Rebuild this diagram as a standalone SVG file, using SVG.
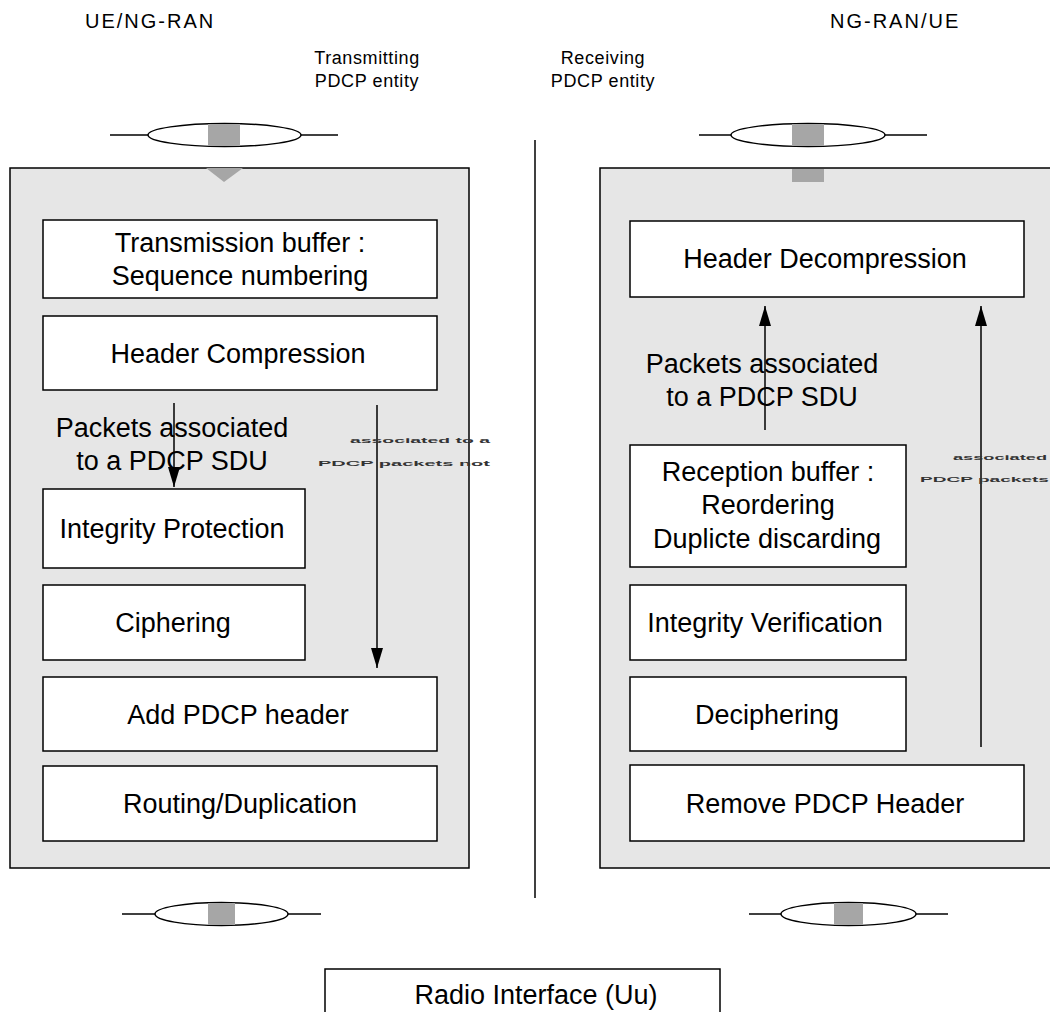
<svg xmlns="http://www.w3.org/2000/svg" width="1050" height="1012" viewBox="0 0 1050 1012">
<defs>
<style>
text{font-family:"Liberation Sans",Arial,sans-serif;fill:#000}
.n{font-size:27px;text-anchor:middle}
.box{fill:#fff;stroke:#000;stroke-width:1.5}
.panel{fill:#e6e6e6;stroke:#000;stroke-width:1.5}
.ln{stroke:#000;stroke-width:1.5;fill:none}
.sq{fill:#a6a6a6}
.hd{font-size:20px;letter-spacing:2px}
.sub{font-size:18px;text-anchor:middle;letter-spacing:0.6px}
.tiny{font-size:8px;fill:#333;font-weight:bold}
</style>
<marker id="ah" viewBox="0 0 20 12" refX="20" refY="6" markerWidth="20" markerHeight="12" markerUnits="userSpaceOnUse" orient="auto">
<path d="M0,0 L20,6 L0,12 Z" fill="#000"/>
</marker>
</defs>
<rect width="1050" height="1012" fill="#fff"/>

<g id="headers">
<text class="hd" x="85" y="28">UE/NG-RAN</text>
<text class="hd" x="830" y="28">NG-RAN/UE</text>
<text class="sub" x="367" y="64">Transmitting</text>
<text class="sub" x="367" y="87">PDCP  entity</text>
<text class="sub" x="603" y="64">Receiving</text>
<text class="sub" x="603" y="87">PDCP  entity</text>
</g>

<g id="tx-panel">
<rect class="panel" x="10" y="168" width="459" height="700"/>
<path d="M206,168 L243,168 L224,182 Z" fill="#a6a6a6"/>
</g>
<g id="rx-panel">
<rect class="panel" x="600" y="168" width="460" height="700"/>
<rect class="sq" x="792" y="169" width="32" height="13"/>
</g>

<g id="ch-tx-top">
<line class="ln" x1="110" y1="135" x2="148" y2="135"/>
<line class="ln" x1="301" y1="135" x2="338" y2="135"/>
<ellipse cx="224.5" cy="135" rx="76.5" ry="11.5" fill="#fff" stroke="#000" stroke-width="1.5"/>
<rect class="sq" x="208" y="124" width="32" height="22"/>
</g>
<g id="ch-rx-top">
<line class="ln" x1="699" y1="135" x2="731" y2="135"/>
<line class="ln" x1="885" y1="135" x2="927" y2="135"/>
<ellipse cx="808" cy="135" rx="77" ry="11.5" fill="#fff" stroke="#000" stroke-width="1.5"/>
<rect class="sq" x="792" y="124" width="32" height="22"/>
</g>
<g id="ch-tx-bot">
<line class="ln" x1="122" y1="914" x2="155" y2="914"/>
<line class="ln" x1="288" y1="914" x2="321" y2="914"/>
<ellipse cx="221.5" cy="914" rx="66.5" ry="11.5" fill="#fff" stroke="#000" stroke-width="1.5"/>
<rect class="sq" x="208" y="903" width="27" height="22"/>
</g>
<g id="ch-rx-bot">
<line class="ln" x1="749" y1="914" x2="781" y2="914"/>
<line class="ln" x1="916" y1="914" x2="948" y2="914"/>
<ellipse cx="848.5" cy="914" rx="67.5" ry="11.5" fill="#fff" stroke="#000" stroke-width="1.5"/>
<rect class="sq" x="834" y="903" width="29" height="22"/>
</g>

<g id="divider"><line class="ln" x1="535" y1="140" x2="535" y2="898"/></g>

<g id="tx-buffer"><rect class="box" x="43" y="220" width="394" height="78"/>
<text class="n" x="240" y="252">Transmission buffer :</text>
<text class="n" x="240" y="285">Sequence numbering</text></g>
<g id="hdr-comp"><rect class="box" x="43" y="316" width="394" height="74"/>
<text class="n" x="238" y="363">Header Compression</text></g>
<g id="integrity"><rect class="box" x="43" y="489" width="262" height="79"/>
<text class="n" x="172" y="538">Integrity Protection</text></g>
<g id="ciphering"><rect class="box" x="43" y="585" width="262" height="75"/>
<text class="n" x="173" y="632">Ciphering</text></g>
<g id="add-hdr"><rect class="box" x="43" y="677" width="394" height="74"/>
<text class="n" x="238" y="724">Add PDCP header</text></g>
<g id="routing"><rect class="box" x="43" y="766" width="394" height="75"/>
<text class="n" x="240" y="813">Routing/Duplication</text></g>

<g id="hdr-decomp"><rect class="box" x="630" y="221" width="394" height="76"/>
<text class="n" x="825" y="268">Header Decompression</text></g>
<g id="rx-buffer"><rect class="box" x="630" y="445" width="276" height="122"/>
<text class="n" x="768" y="481">Reception buffer :</text>
<text class="n" x="768" y="514">Reordering</text>
<text class="n" x="767" y="548">Duplicte discarding</text></g>
<g id="int-verif"><rect class="box" x="630" y="585" width="276" height="75"/>
<text class="n" x="765" y="632">Integrity Verification</text></g>
<g id="deciph"><rect class="box" x="630" y="677" width="276" height="74"/>
<text class="n" x="767" y="724">Deciphering</text></g>
<g id="remove-hdr"><rect class="box" x="630" y="765" width="394" height="76"/>
<text class="n" x="825" y="813">Remove PDCP Header</text></g>

<g id="radio"><rect class="box" x="325" y="969" width="395" height="60"/>
<text class="n" x="536" y="1004">Radio Interface  (Uu)</text></g>

<g id="connectors">
<line class="ln" x1="174" y1="403" x2="174" y2="487" marker-end="url(#ah)"/>
<line class="ln" x1="377" y1="405" x2="377" y2="668" marker-end="url(#ah)"/>
<line class="ln" x1="765" y1="430" x2="765" y2="306" marker-end="url(#ah)"/>
<line class="ln" x1="981" y1="747" x2="981" y2="306" marker-end="url(#ah)"/>
</g>

<g id="labels">
<text class="n" x="172" y="437">Packets associated</text>
<text class="n" x="172" y="470">to a PDCP SDU</text>
<text class="n" x="762" y="373">Packets associated</text>
<text class="n" x="762" y="406">to a PDCP SDU</text>
<text class="tiny" x="350" y="443" textLength="140" lengthAdjust="spacingAndGlyphs">associated to a</text>
<text class="tiny" x="318" y="466" textLength="172" lengthAdjust="spacingAndGlyphs">PDCP packets not</text>
<text class="tiny" x="953" y="460" textLength="94" lengthAdjust="spacingAndGlyphs">associated</text>
<text class="tiny" x="920" y="482" textLength="129" lengthAdjust="spacingAndGlyphs">PDCP packets</text>
</g>
</svg>
